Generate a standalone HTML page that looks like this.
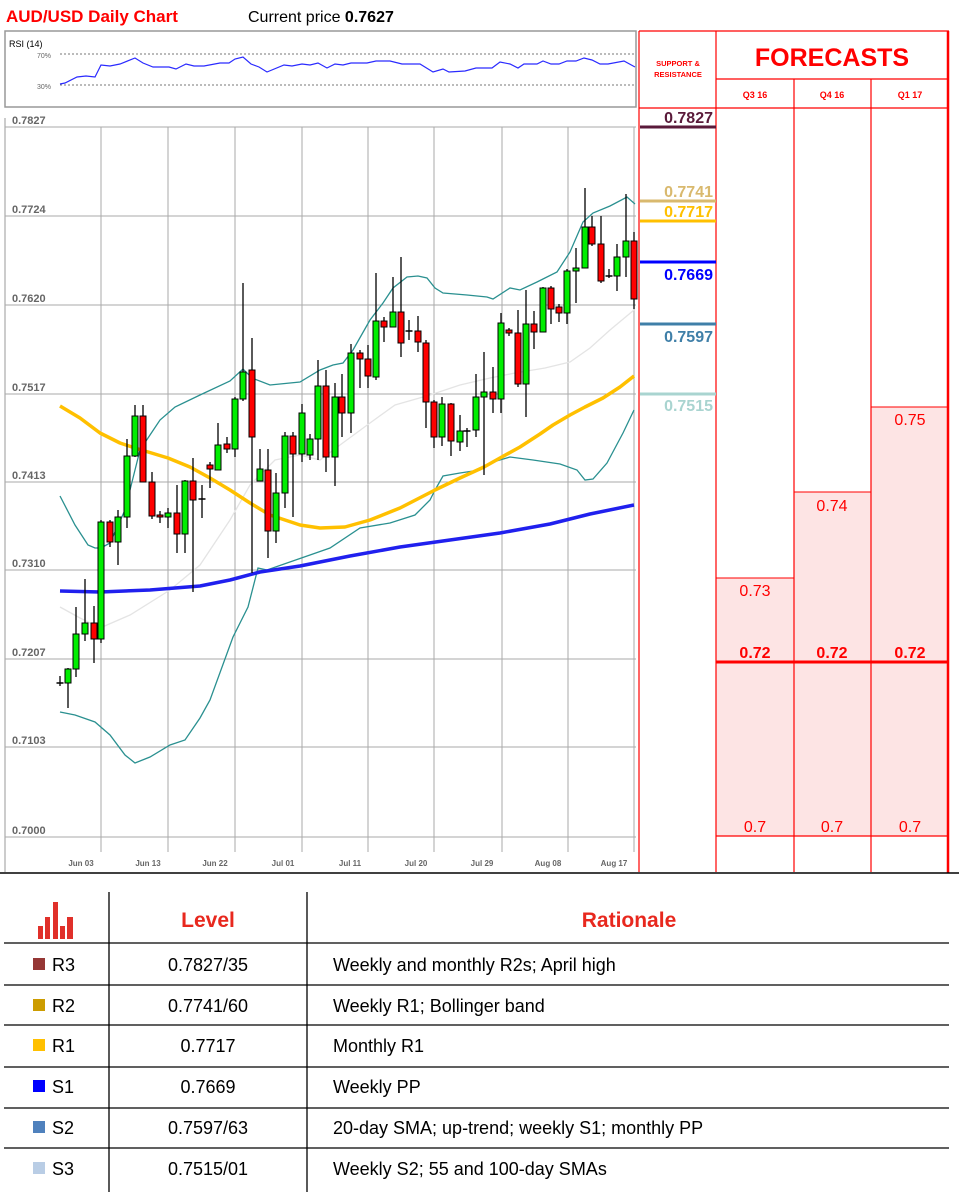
<!DOCTYPE html>
<html><head><meta charset="utf-8"><style>
html,body{margin:0;padding:0;background:#fff;width:959px;height:1192px;overflow:hidden}
svg{display:block}
text{font-family:"Liberation Sans",sans-serif}
</style></head><body>
<svg id="s" width="959" height="1192" viewBox="0 0 959 1192" xmlns="http://www.w3.org/2000/svg">
<text x="6" y="22" font-size="17" font-weight="bold" fill="#ff0000">AUD/USD Daily Chart</text>
<text x="248" y="22" font-size="16" fill="#000">Current price <tspan font-weight="bold">0.7627</tspan></text>
<!-- RSI -->
<rect x="5" y="31" width="631" height="76" fill="#fff" stroke="#999" stroke-width="1.5"/>
<text x="9" y="47" font-size="9" fill="#000">RSI (14)</text>
<text x="37" y="58" font-size="7" fill="#666">70%</text>
<text x="37" y="89" font-size="7" fill="#666">30%</text>
<line x1="60" y1="54" x2="636" y2="54" stroke="#777" stroke-dasharray="2,2"/>
<line x1="60" y1="85" x2="636" y2="85" stroke="#777" stroke-dasharray="2,2"/>
<polyline fill="none" stroke="#2a2aff" stroke-width="1.2" points="60,84 65,83 77,77 86,76 95,77 101,65 110,66 120,64 135,58 143,63 153,67 169,67 176,69 186,64 194,66 204,66 220,63 229,63 235,59 243,57 251,64 259,67 267,72 284,65 292,66 302,64 310,65 318,63 327,68 335,64 343,65 351,63 367,63 376,61 390,61 402,64 420,64 433,72 443,69 449,72 465,71 476,68 492,68 500,62 510,64 518,68 524,64 537,64 543,61 551,64 559,64 567,61 576,61 584,58 592,60 600,64 608,64 624,61 635,67"/>
<!-- chart area -->
<line x1="5" y1="118" x2="5" y2="872" stroke="#ccc" stroke-width="2"/>
<g id="grid" stroke="#aaa" stroke-width="1"></g>
<g font-size="11" font-weight="bold" fill="#666">
<text x="12" y="124">0.7827</text><text x="12" y="213">0.7724</text><text x="12" y="302">0.7620</text><text x="12" y="391">0.7517</text><text x="12" y="479">0.7413</text><text x="12" y="567">0.7310</text><text x="12" y="656">0.7207</text><text x="12" y="744">0.7103</text><text x="12" y="834">0.7000</text>
</g>
<g font-size="8" font-weight="bold" fill="#666" text-anchor="middle">
<text x="81" y="866">Jun 03</text><text x="148" y="866">Jun 13</text><text x="215" y="866">Jun 22</text><text x="283" y="866">Jul 01</text><text x="350" y="866">Jul 11</text><text x="416" y="866">Jul 20</text><text x="482" y="866">Jul 29</text><text x="548" y="866">Aug 08</text><text x="614" y="866">Aug 17</text>
</g>
<!-- lines -->
<polyline fill="none" stroke="#e4e4e4" stroke-width="1.3" points="60,607 80,618 100,628 130,615 170,590 200,565 230,520 250,485 275,460 300,455 320,460 340,445 370,423 395,405 430,395 460,385 490,378 515,373 545,368 570,362 590,348 610,330 634,310"/>
<polyline fill="none" stroke="#2a9090" stroke-width="1.3" points="60,496 75,525 88,545 95,548 101,548 110,543 125,510 140,450 148,438 160,420 175,407 200,395 230,381 243,369 252,378 270,385 300,382 320,370 333,365 343,363 353,350 370,320 383,303 393,288 407,277 418,276 427,278 435,288 443,293 467,295 487,297 493,299 510,288 520,290 537,282 557,272 570,252 583,222 593,213 610,206 627,197 635,204"/>
<polyline fill="none" stroke="#2a9090" stroke-width="1.3" points="60,712 75,715 95,722 110,735 125,755 135,763 150,757 170,745 185,740 200,718 210,700 233,637 248,607 258,568 267,570 287,563 310,555 330,548 360,528 390,523 415,515 430,500 435,490 443,476 460,473 480,470 493,462 510,457 533,460 560,464 577,470 585,480 593,479 607,463 623,433 634,410"/>
<polyline fill="none" stroke="#ffc000" stroke-width="3.5" stroke-linejoin="round" points="60,406 80,418 100,433 120,443 135,448 168,458 190,467 210,478 230,490 250,503 270,515 285,520 300,525 320,528 345,527 370,520 400,508 435,490 460,478 484,467 500,458 520,447 540,434 553,425 570,415 585,407 603,398 620,387 634,376"/>
<polyline fill="none" stroke="#2020ee" stroke-width="3.5" stroke-linejoin="round" points="60,591 100,592 150,590 200,586 230,580 260,572 300,566 350,556 400,547 450,540 500,533 550,524 590,514 634,505"/>
<g id="candles"></g>
<!-- right panel -->
<rect x="716" y="578" width="78" height="258" fill="#fde4e4" stroke="#f00" stroke-width="1"/>
<rect x="794" y="492" width="77" height="344" fill="#fde4e4" stroke="#f00" stroke-width="1"/>
<rect x="871" y="407" width="77" height="429" fill="#fde4e4" stroke="#f00" stroke-width="1"/>
<g stroke="#f00" stroke-width="1.2">
<line x1="639" y1="31" x2="949" y2="31"/>
<line x1="639" y1="31" x2="639" y2="872"/>
<line x1="716" y1="31" x2="716" y2="872"/>
<line x1="794" y1="79" x2="794" y2="872"/>
<line x1="871" y1="79" x2="871" y2="872"/>
<line x1="716" y1="79" x2="949" y2="79"/>
<line x1="639" y1="108" x2="949" y2="108"/>
<line x1="716" y1="836" x2="949" y2="836"/>
</g>
<line x1="948" y1="31" x2="948" y2="873" stroke="#f00" stroke-width="2.5"/>
<line x1="716" y1="662" x2="949" y2="662" stroke="#f00" stroke-width="3"/>
<line x1="0" y1="873" x2="959" y2="873" stroke="#000" stroke-width="1.5"/>
<g fill="#f00" font-weight="bold" text-anchor="middle">
<text x="678" y="66" font-size="7.5">SUPPORT &amp;</text>
<text x="678" y="77" font-size="7.5">RESISTANCE</text>
<text x="832" y="66" font-size="25">FORECASTS</text>
<text x="755" y="98" font-size="9">Q3 16</text>
<text x="832" y="98" font-size="9">Q4 16</text>
<text x="910" y="98" font-size="9">Q1 17</text>
</g>
<g fill="#f00" font-size="16" text-anchor="middle">
<text x="755" y="596">0.73</text><text x="832" y="511">0.74</text><text x="910" y="425">0.75</text>
<text x="755" y="832">0.7</text><text x="832" y="832">0.7</text><text x="910" y="832">0.7</text>
<g font-weight="bold"><text x="755" y="658">0.72</text><text x="832" y="658">0.72</text><text x="910" y="658">0.72</text></g>
</g>
<g font-size="16" font-weight="bold" text-anchor="end">
<line x1="640" y1="127" x2="716" y2="127" stroke="#5a1a3a" stroke-width="3"/><text x="713" y="123" fill="#5a1a3a">0.7827</text>
<line x1="640" y1="201" x2="716" y2="201" stroke="#d9b96e" stroke-width="3"/><text x="713" y="197" fill="#d9b96e">0.7741</text>
<line x1="640" y1="221" x2="716" y2="221" stroke="#ffc000" stroke-width="3"/><text x="713" y="217" fill="#ffc000">0.7717</text>
<line x1="640" y1="262" x2="716" y2="262" stroke="#0000ff" stroke-width="3"/><text x="713" y="280" fill="#0000ff">0.7669</text>
<line x1="640" y1="324" x2="716" y2="324" stroke="#3f7fa8" stroke-width="3"/><text x="713" y="342" fill="#3f7fa8">0.7597</text>
<line x1="640" y1="394" x2="716" y2="394" stroke="#a9d4d0" stroke-width="3"/><text x="713" y="411" fill="#a9d4d0">0.7515</text>
</g>
<!-- table -->
<g fill="#e0302a">
<rect x="38" y="926" width="5" height="13"/><rect x="45" y="917" width="5" height="22"/><rect x="53" y="902" width="5" height="37"/><rect x="60" y="926" width="5" height="13"/><rect x="67" y="917" width="6" height="22"/>
</g>
<g stroke="#000" stroke-width="1.3">
<line x1="109" y1="892" x2="109" y2="1192"/><line x1="307" y1="892" x2="307" y2="1192"/>
<line x1="4" y1="943" x2="949" y2="943"/><line x1="4" y1="985" x2="949" y2="985"/><line x1="4" y1="1025" x2="949" y2="1025"/><line x1="4" y1="1067" x2="949" y2="1067"/><line x1="4" y1="1108" x2="949" y2="1108"/><line x1="4" y1="1148" x2="949" y2="1148"/>
</g>
<g fill="#e8281e" font-size="21" font-weight="bold" text-anchor="middle">
<text x="208" y="927">Level</text><text x="629" y="927">Rationale</text>
</g>
<g font-size="18" fill="#000">
<rect x="33" y="958" width="12" height="12" fill="#953735"/><text x="52" y="971">R3</text><text x="208" y="971" text-anchor="middle">0.7827/35</text><text x="333" y="971">Weekly and monthly R2s; April high</text>
<rect x="33" y="999" width="12" height="12" fill="#cc9c00"/><text x="52" y="1012">R2</text><text x="208" y="1012" text-anchor="middle">0.7741/60</text><text x="333" y="1012">Weekly R1; Bollinger band</text>
<rect x="33" y="1039" width="12" height="12" fill="#ffc000"/><text x="52" y="1052">R1</text><text x="208" y="1052" text-anchor="middle">0.7717</text><text x="333" y="1052">Monthly R1</text>
<rect x="33" y="1080" width="12" height="12" fill="#0000ff"/><text x="52" y="1093">S1</text><text x="208" y="1093" text-anchor="middle">0.7669</text><text x="333" y="1093">Weekly PP</text>
<rect x="33" y="1121" width="12" height="12" fill="#4f81bd"/><text x="52" y="1134">S2</text><text x="208" y="1134" text-anchor="middle">0.7597/63</text><text x="333" y="1134">20-day SMA; up-trend; weekly S1; monthly PP</text>
<rect x="33" y="1162" width="12" height="12" fill="#b9cde5"/><text x="52" y="1175">S3</text><text x="208" y="1175" text-anchor="middle">0.7515/01</text><text x="333" y="1175">Weekly S2; 55 and 100-day SMAs</text>
</g>
</svg>
<script>
var NS="http://www.w3.org/2000/svg";
function el(p,t,a){var e=document.createElementNS(NS,t);for(var k in a)e.setAttribute(k,a[k]);p.appendChild(e);return e;}
var g=document.getElementById("grid");
[127,216,305,394,482,570,659,747,837].forEach(function(y){el(g,"line",{x1:5,y1:y,x2:636,y2:y});});
[101,168,235,302,368,434,502,568,634].forEach(function(x){el(g,"line",{x1:x,y1:127,x2:x,y2:852});});
var C=[[60,683,683,676,686],[68,683,669,668,708],[76,669,634,607,677],[85,634,623,579,641],[94,623,639,606,663],[101,639,522,520,643],[110,522,542,520,547],[118,542,517,510,565],[127,517,456,439,528],[135,456,416,405,457],[143,416,482,405,482],[152,482,516,472,519],[160,515,517,511,523],[168,517,513,508,528],[177,513,534,485,553],[185,534,481,480,553],[193,481,500,458,592],[202,499,499,485,518],[210,465,469,462,488],[218,470,445,423,470],[227,444,449,437,453],[235,449,399,397,457],[243,399,372,283,401],[252,370,437,338,573],[260,481,469,449,481],[268,470,531,449,558],[276,531,493,473,543],[285,493,436,432,508],[293,436,454,432,517],[302,454,413,404,462],[310,455,439,434,460],[318,439,386,360,460],[326,386,457,370,472],[335,457,397,383,486],[342,397,413,374,437],[351,413,353,344,433],[360,353,359,350,388],[368,359,376,345,388],[376,377,321,273,380],[384,321,327,317,342],[393,327,312,277,327],[401,312,343,257,357],[409,331,331,320,340],[418,331,342,316,352],[426,343,402,340,428],[434,402,437,400,448],[442,437,404,397,446],[451,404,441,403,456],[460,442,431,415,451],[467,431,431,428,447],[476,430,397,374,437],[484,397,392,352,475],[493,392,399,367,413],[501,399,323,313,413],[509,330,333,328,336],[518,333,384,310,387],[526,384,324,290,417],[534,324,332,311,349],[543,332,288,287,332],[551,288,309,286,324],[559,307,313,304,322],[567,313,271,269,324],[576,271,268,248,303],[585,268,227,188,268],[592,227,244,216,246],[601,244,281,216,283],[609,276,276,269,278],[617,276,257,244,291],[626,257,241,194,277],[634,241,299,232,309]];
var cg=document.getElementById("candles");
C.forEach(function(c){var x=c[0],o=c[1],cl=c[2],h=c[3],l=c[4];
el(cg,"line",{x1:x,y1:h,x2:x,y2:l,stroke:"#000","stroke-width":1.3});
if(o==cl){el(cg,"line",{x1:x-3.5,y1:o,x2:x+3.5,y2:o,stroke:"#000","stroke-width":1.5});return;}
var t=Math.min(o,cl),b=Math.max(o,cl);
el(cg,"rect",{x:x-3,y:t,width:6,height:Math.max(b-t,2),fill:(cl<o?"#00ee00":"#ff0000"),stroke:"#000","stroke-width":1});});
</script>
</body></html>
